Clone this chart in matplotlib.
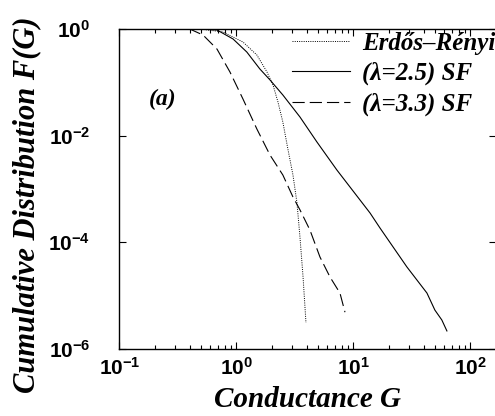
import matplotlib
matplotlib.use("Agg")
import matplotlib.pyplot as plt
from matplotlib.ticker import LogLocator, FuncFormatter, NullFormatter
import numpy as np

# values (log-log axes)
g_er = [0.2, 0.49, 0.77, 1.14, 1.50, 1.83, 2.06, 2.27, 2.50, 2.76, 3.05, 3.30, 3.50, 3.72, 3.94]
f_er = [1.0, 1.0, 0.88, 0.57, 0.325, 0.156, 0.089, 0.0428, 0.018, 5.6e-3, 1.83e-3, 5.5e-4, 1.26e-4, 2.24e-5, 3.1e-6]

g_sf25 = [0.2, 0.49, 0.684, 0.938, 1.23, 1.59, 1.94, 2.50, 3.50, 4.89, 7.24, 13.9, 16.9, 28.7, 42.6, 49.8, 57.1, 63.1]
f_sf25 = [1.0, 1.0, 0.958, 0.65, 0.37, 0.178, 0.111, 0.0579, 0.0224, 7.6e-3, 2.27e-3, 3.55e-4, 1.86e-4, 3.46e-5, 1.12e-5, 5.37e-6, 3.5e-6, 2.18e-6]

g_sf33 = [0.2, 0.40, 0.52, 0.684, 0.883, 1.14, 1.50, 1.94, 2.50, 3.05, 3.50, 4.26, 5.19, 6.32, 7.69, 8.49]
f_sf33 = [1.0, 1.0, 0.77, 0.42, 0.156, 0.0487, 0.0133, 4.34e-3, 1.83e-3, 7.08e-4, 4.07e-4, 1.7e-4, 5.3e-5, 2.24e-5, 1.12e-5, 4.9e-6]

labels = ["Erdős–Rényi", "(λ=2.5) SF", "(λ=3.3) SF"]

plt.rcParams['mathtext.fontset'] = 'custom'
plt.rcParams['mathtext.rm'] = 'Liberation Sans:bold'
plt.rcParams['mathtext.bf'] = 'Liberation Sans:bold'
plt.rcParams['mathtext.it'] = 'Liberation Sans:bold'

serif_bi = dict(family='Liberation Serif', weight='bold', style='italic')

fig = plt.figure(figsize=(4.95, 4.16), dpi=100)
ax = fig.add_axes([119.3 / 495, 1 - 349 / 416, 376.7 / 495, 320 / 416])

ax.plot(g_er, f_er, color='black', lw=0.7, linestyle=(0, (1, 1.3)), label=labels[0])
ax.plot(g_sf25, f_sf25, color='black', lw=0.8, linestyle='-', label=labels[1])
ax.plot(g_sf33, f_sf33, color='black', lw=0.8, linestyle=(0, (11, 4.5)), label=labels[2])

ax.set_xscale('log')
ax.set_yscale('log')
ax.set_xlim(0.1, 10 ** (-1 + 376.7 / 117))
ax.set_ylim(1e-6, 1)

ax.xaxis.set_major_locator(LogLocator(base=10, numticks=10))
ax.yaxis.set_major_locator(LogLocator(base=100, numticks=10))
ax.xaxis.set_minor_locator(LogLocator(base=10, subs=np.arange(2, 10), numticks=20))
ax.yaxis.set_minor_locator(LogLocator(base=10, subs=[1.0], numticks=20))
ax.yaxis.set_minor_formatter(NullFormatter())
ax.xaxis.set_minor_formatter(NullFormatter())

def fmt(v, pos):
    e = int(round(np.log10(v)))
    return r'$\mathbf{10^{%d}}$' % e

ax.xaxis.set_major_formatter(FuncFormatter(fmt))
ax.yaxis.set_major_formatter(FuncFormatter(fmt))

ax.tick_params(which='both', direction='in', top=True, right=True, width=0.8)
ax.tick_params(which='major', length=5)
ax.tick_params(which='minor', length=3)
ax.tick_params(axis='y', which='minor', length=0)
ax.tick_params(axis='x', which='major', pad=6, labelsize=15)
ax.tick_params(axis='y', which='major', pad=21, labelsize=15)

for s in ax.spines.values():
    s.set_linewidth(1.0)

ax.set_xlabel("Conductance G", fontsize=21, labelpad=5, **serif_bi)
ax.set_ylabel("Cumulative Distribution F(G)", fontsize=22, **serif_bi)
ax.yaxis.set_label_coords(-0.207, (349 - 205) / 320)

ax.text(149, 416 - 99, "(a)", transform=None, fontsize=17, va='center', ha='left', **serif_bi)

leg = ax.legend(loc='upper left', bbox_to_anchor=(292 / 495, 1 - 32 / 416),
                bbox_transform=fig.transFigure, frameon=False, borderpad=0,
                borderaxespad=0, handlelength=2.3, handletextpad=0.52,
                labelspacing=0.28, prop=dict(size=18, **serif_bi))

fig.savefig("out.png", dpi=100)
